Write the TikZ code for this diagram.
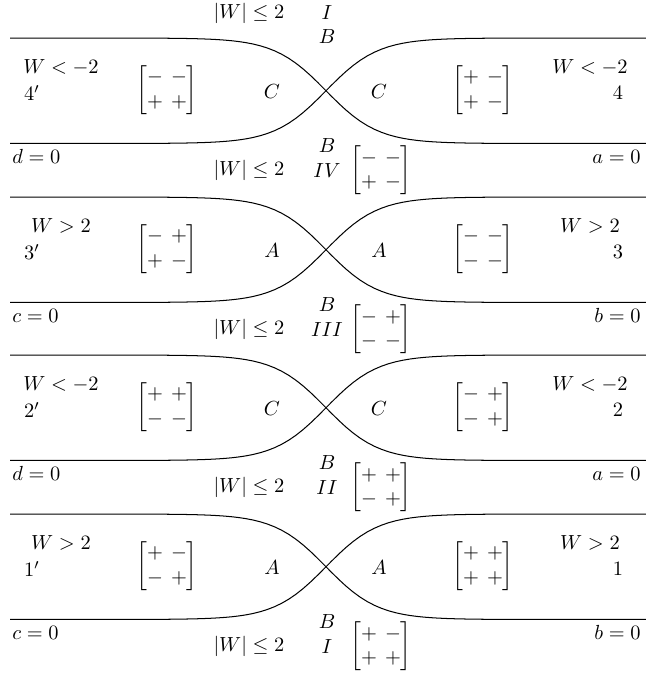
\documentclass[tikz,border=0pt]{standalone}
\usepackage{amsmath, amssymb}
\usepackage{tikz}
\usetikzlibrary{calc}
\setlength{\arraycolsep}{2pt}
\tikzset{curve/.style={line width=0.5pt},
         lbl/.style={inner sep=1pt}}
\newcommand{\sgn}[4]{$\begin{bmatrix}#1&#2\\#3&#4\end{bmatrix}$}
\newcommand{\crossband}[7]{%
  \draw[curve] plot[domain=10:646, samples=90]
    (\x, {#2+52.75+52.75*tanh(min(4,max(-4,(\x-326)/52)))});
  \draw[curve] plot[domain=10:646, samples=90]
    (\x, {#2+52.75-52.75*tanh(min(4,max(-4,(\x-326)/52)))});
  \node[lbl] (wl#1) at (61,#2+29) {#3};
  \node[lbl] (pl#1) at (32,#2+55) {$#4'$};
  \node[lbl] (ml#1) at (167,#2+52) {#5};
  \node[lbl] (cl#1) at (272,#2+54) {$#6$};
  \node[lbl] (cr#1) at (379,#2+54) {$#6$};
  \node[lbl] (mr#1) at (483,#2+52) {#7};
  \node[lbl] (wr#1) at (590,#2+29) {#3};
  \node[lbl] (nr#1) at (618,#2+55) {$#4$};
}
\newcommand{\bandgap}[6]{%
  \node[lbl, anchor=west] (zl#1) at (10,#2+13) {$#3=0$};
  \node[lbl, anchor=east] (zr#1) at (643,#2+13) {$#4=0$};
  \node[lbl] (b#1) at (327,#2+2) {$B$};
  \node[lbl] (wg#1) at (249,#2+27) {$|W|\leq 2$};
  \node[lbl] (rg#1) at (327,#2+27) {$#5$};
  \node[lbl] (mg#1) at (381,#2+27) {#6};
}

\begin{document}
\begin{tikzpicture}[x=0.49pt, y=-0.49pt]
  \useasboundingbox (0,0) rectangle (646,680);
  % top labels
  \node[lbl] (wtop) at (249,13) {$|W|\leq 2$};
  \node[lbl] (rtop) at (327,13) {$I$};
  \node[lbl] (btop) at (327,37) {$B$};
  % four bands, top to bottom
  \crossband{4}{38}{$W<-2$}{4}{\sgn{-}{-}{+}{+}}{C}{\sgn{+}{-}{+}{-}}
  \bandgap{4}{143.5}{d}{a}{IV}{\sgn{-}{-}{+}{-}}
  \crossband{3}{197}{$W>2$}{3}{\sgn{-}{+}{+}{-}}{A}{\sgn{-}{-}{-}{-}}
  \bandgap{3}{302.5}{c}{b}{III}{\sgn{-}{+}{-}{-}}
  \crossband{2}{355}{$W<-2$}{2}{\sgn{+}{+}{-}{-}}{C}{\sgn{-}{+}{-}{+}}
  \bandgap{2}{460.5}{d}{a}{II}{\sgn{+}{+}{-}{+}}
  \crossband{1}{514}{$W>2$}{1}{\sgn{+}{-}{-}{+}}{A}{\sgn{+}{+}{+}{+}}
  \bandgap{1}{619.5}{c}{b}{I}{\sgn{+}{-}{+}{+}}
\end{tikzpicture}
\end{document}
